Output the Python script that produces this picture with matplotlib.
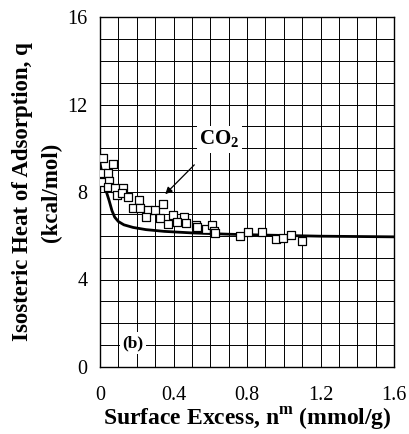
import matplotlib.pyplot as plt
import numpy as np

plt.rcParams['font.family'] = ['Liberation Serif', 'DejaVu Serif']
plt.rcParams['mathtext.fontset'] = 'custom'
plt.rcParams['mathtext.rm'] = 'Liberation Serif'
plt.rcParams['mathtext.bf'] = 'Liberation Serif:bold'

# measured points (CO2)
n_exp = [0.018, 0.072, 0.009, 0.045, 0.009, 0.05, 0.045, 0.082, 0.127, 0.09,
         0.118, 0.154, 0.214, 0.181, 0.218, 0.263, 0.30, 0.25, 0.345, 0.327,
         0.395, 0.457, 0.372, 0.42, 0.468, 0.522, 0.53, 0.575, 0.611, 0.62,
         0.626, 0.762, 0.807, 0.88, 0.958, 0.994, 1.038, 1.098]
q_exp = [9.54, 9.28, 8.85, 8.85, 8.47, 8.52, 8.24, 8.17, 8.17, 7.86,
         7.97, 7.78, 7.63, 7.25, 7.25, 7.18, 7.18, 6.87, 7.45, 6.80,
         6.95, 6.84, 6.54, 6.64, 6.60, 6.49, 6.39, 6.31, 6.49, 6.23,
         6.14, 5.99, 6.19, 6.19, 5.84, 5.88, 6.03, 5.77]

# model curve
n_fit = [0.0, 0.01, 0.02, 0.035, 0.05, 0.065, 0.08, 0.1, 0.13, 0.18, 0.25,
         0.35, 0.5, 0.7, 0.9, 1.2, 1.6]
q_fit = [9.3, 8.9, 8.5, 8.0, 7.6, 7.15, 6.85, 6.65, 6.5, 6.38, 6.28,
         6.2, 6.13, 6.07, 6.03, 5.98, 5.95]

fig = plt.figure(figsize=(4.09, 4.34), dpi=100)
ax = fig.add_axes([100 / 409, 1 - 367 / 434, 294 / 409, 350 / 434])

ax.plot(n_fit, q_fit, color='black', lw=2.0, zorder=3)
ax.scatter(n_exp, q_exp, marker='s', s=36, facecolors='white',
           edgecolors='black', linewidths=0.9, zorder=4)

ax.set_xlim(0, 1.6)
ax.set_ylim(0, 16)
ax.set_xticks(np.arange(0, 1.61, 0.4))
ax.set_xticklabels(['0', '0.4', '0.8', '1.2', '1.6'])
ax.set_yticks(np.arange(0, 16.1, 4))
ax.set_xticks(np.arange(0, 1.61, 0.1), minor=True)
ax.set_yticks(np.arange(0, 16.1, 1), minor=True)
ax.grid(which='both', color='black', lw=0.7)
ax.tick_params(which='both', length=0, labelsize=14.5)
ax.tick_params(axis='x', pad=14)
ax.tick_params(axis='y', pad=9)
for s in ax.spines.values():
    s.set_linewidth(1.0)

ax.set_xlabel(r'Surface Excess, n$^{\mathbf{m}}$ (mmol/g)',
              fontsize=17, fontweight='bold', labelpad=0)
ax.set_ylabel('Isosteric Heat of Adsorption, q\n(kcal/mol)',
              fontsize=16.5, fontweight='bold', labelpad=4, linespacing=1.45)

ax.annotate(r'CO$_\mathbf{2}$', xy=(0.355, 7.9), xytext=(0.65, 10.4),
            fontsize=15, fontweight='bold', ha='center', va='center',
            bbox=dict(fc='white', ec='none', pad=2),
            arrowprops=dict(arrowstyle='-|>', color='black', lw=0.9,
                            shrinkA=12, shrinkB=0, mutation_scale=10))
ax.text(0.18, 1.1, '(b)', fontsize=12.5, fontweight='bold', ha='center',
        va='center', bbox=dict(fc='white', ec='none', pad=2), zorder=5)

fig.savefig('out.png', dpi=100)
